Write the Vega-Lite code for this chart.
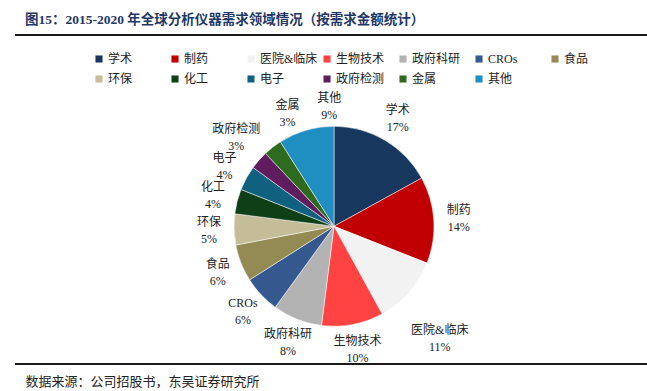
{
  "$schema": "https://vega.github.io/schema/vega-lite/v6.json",
  "width": 638,
  "height": 329,
  "padding": {"left": 15, "top": 12, "right": 0, "bottom": 0},
  "background": "white",
  "title": {
    "text": "图15：2015-2020 年全球分析仪器需求领域情况（按需求金额统计）",
    "anchor": "start",
    "frame": "group",
    "dx": 10,
    "offset": 9,
    "font": "Liberation Serif, Noto Sans CJK SC",
    "fontSize": 13.5,
    "fontWeight": "bold",
    "color": "#1F3864"
  },
  "data": {
    "values": [
      {"i": 1, "name": "学术", "share": 0.17},
      {"i": 2, "name": "制药", "share": 0.14},
      {"i": 3, "name": "医院&临床", "share": 0.11},
      {"i": 4, "name": "生物技术", "share": 0.10},
      {"i": 5, "name": "政府科研", "share": 0.08},
      {"i": 6, "name": "CROs", "share": 0.06},
      {"i": 7, "name": "食品", "share": 0.06},
      {"i": 8, "name": "环保", "share": 0.05},
      {"i": 9, "name": "化工", "share": 0.04},
      {"i": 10, "name": "电子", "share": 0.04},
      {"i": 11, "name": "政府检测", "share": 0.03},
      {"i": 12, "name": "金属", "share": 0.03},
      {"i": 13, "name": "其他", "share": 0.09}
    ]
  },
  "encoding": {
    "theta": {"field": "share", "type": "quantitative", "stack": true},
    "order": {"field": "i", "type": "quantitative"},
    "x": {
      "datum": 0,
      "type": "quantitative",
      "scale": {"domain": [-1, 1]},
      "axis": {
        "title": "数据来源：公司招股书，东吴证券研究所",
        "labels": false,
        "ticks": false,
        "domain": false,
        "grid": false,
        "titleX": 10,
        "titleY": 17,
        "titleAlign": "left",
        "titleBaseline": "middle",
        "titleFont": "Liberation Serif, Noto Sans CJK SC",
        "titleFontSize": 13,
        "titleFontWeight": "normal",
        "titleColor": "#222222"
      }
    },
    "y": {
      "datum": 0,
      "type": "quantitative",
      "scale": {"domain": [-0.72, 1]},
      "axis": null
    }
  },
  "layer": [
    {
      "mark": {"type": "arc", "outerRadius": 100, "stroke": "white", "strokeWidth": 0.5},
      "encoding": {
        "color": {
          "field": "name",
          "type": "nominal",
          "sort": null,
          "scale": {
            "domain": ["学术", "制药", "医院&临床", "生物技术", "政府科研", "CROs", "食品", "环保", "化工", "电子", "政府检测", "金属", "其他"],
            "range": ["#17375E", "#C00000", "#F2F2F2", "#FF4343", "#B3B3B3", "#35598F", "#948A54", "#C4BD97", "#0F3F17", "#10607F", "#5F1D5F", "#2E6B1F", "#1F8EC0"]
          },
          "legend": {
            "title": null,
            "orient": "none",
            "legendX": 78,
            "legendY": 18,
            "direction": "horizontal",
            "columns": 7,
            "gridAlign": "all",
            "columnPadding": 3,
            "rowPadding": 8,
            "symbolType": "square",
            "symbolSize": 50,
            "symbolStrokeWidth": 0,
            "labelOffset": 3,
            "labelFont": "Liberation Serif, Noto Sans CJK SC",
            "labelFontSize": 12,
            "labelColor": "#222222"
          }
        }
      }
    },
    {
      "mark": {
        "type": "text",
        "radius": 125,
        "dx": {"expr": "datum.name == '金属' ? 30 : datum.name == '其他' ? 30 : datum.name == '医院&临床' ? 12 : datum.name == '政府检测' ? -4 : 0"},
        "dy": {"expr": "datum.name == '金属' ? -22.5 : datum.name == '医院&临床' ? 21.5 : datum.name == '政府检测' ? -14.5 : -8.5"},
        "font": "Liberation Serif, Noto Sans CJK SC",
        "fontSize": 12,
        "color": "#222222"
      },
      "encoding": {"text": {"field": "name", "type": "nominal"}}
    },
    {
      "mark": {
        "type": "text",
        "radius": 125,
        "dx": {"expr": "datum.name == '金属' ? 30 : datum.name == '其他' ? 30 : datum.name == '医院&临床' ? 12 : datum.name == '政府检测' ? -4 : 0"},
        "dy": {"expr": "datum.name == '金属' ? -5.5 : datum.name == '医院&临床' ? 38.5 : datum.name == '政府检测' ? 2.5 : 8.5"},
        "font": "Liberation Serif, Noto Sans CJK SC",
        "fontSize": 12,
        "color": "#222222"
      },
      "encoding": {"text": {"field": "share", "type": "quantitative", "format": ".0%"}}
    }
  ],
  "config": {
    "view": {"stroke": "#1a1a1a", "strokeWidth": 2, "strokeDash": [638, 329, 638, 329]}
  }
}
